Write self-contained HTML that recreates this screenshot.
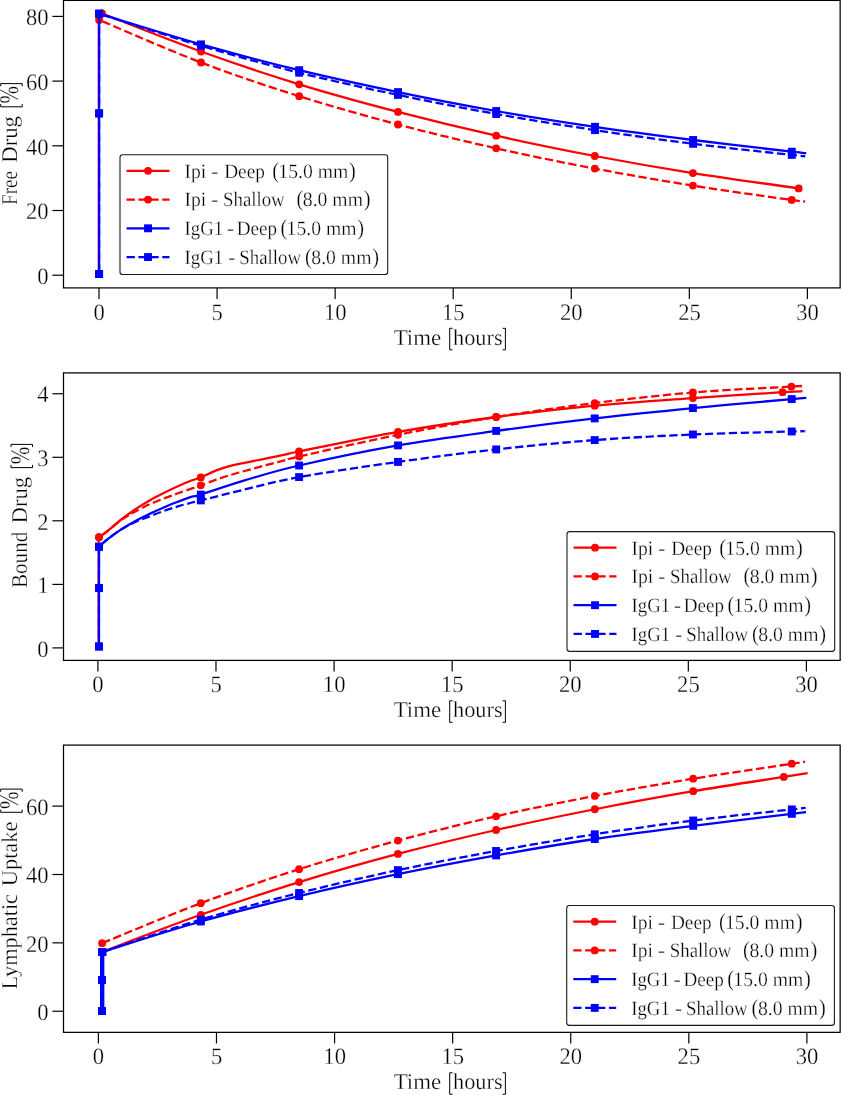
<!DOCTYPE html>
<html><head><meta charset="utf-8"><title>Drug kinetics</title>
<style>
html,body{margin:0;padding:0;background:#fff;}
body{width:847px;height:1095px;overflow:hidden;font-family:"Liberation Serif",serif;}
svg{display:block;will-change:transform;}
.t text{stroke:#fff;stroke-width:0.3px;paint-order:fill stroke;text-rendering:geometricPrecision;}
</style></head>
<body>
<svg width="847" height="1095" viewBox="0 0 847 1095">
<rect width="847" height="1095" fill="#fff"/>
<g font-family='"Liberation Serif", serif' fill="#000" class="t">
<line x1="98.85" y1="274" x2="98.85" y2="14" stroke="#ff0000" stroke-width="2.28"/>
<path d="M102.10,13.50 C118.58,19.83 168.15,39.70 201.00,51.50 C233.85,63.30 266.37,74.23 299.20,84.30 C332.03,94.37 365.17,103.33 398.00,111.90 C430.83,120.47 463.40,128.35 496.20,135.70 C529.00,143.05 562.02,149.77 594.80,156.00 C627.58,162.23 658.92,167.70 692.90,173.10 C726.88,178.50 781.07,185.85 798.70,188.40" fill="none" stroke="#ff0000" stroke-width="2.28" stroke-linejoin="round" stroke-linecap="butt"/>
<circle cx="102.10" cy="13.50" r="3.90" fill="#ff0000"/>
<circle cx="201.00" cy="51.50" r="3.90" fill="#ff0000"/>
<circle cx="299.20" cy="84.30" r="3.90" fill="#ff0000"/>
<circle cx="398.00" cy="111.90" r="3.90" fill="#ff0000"/>
<circle cx="496.20" cy="135.70" r="3.90" fill="#ff0000"/>
<circle cx="594.80" cy="156.00" r="3.90" fill="#ff0000"/>
<circle cx="692.90" cy="173.10" r="3.90" fill="#ff0000"/>
<circle cx="798.70" cy="188.40" r="3.90" fill="#ff0000"/>
<path d="M99.10,19.90 C116.08,27.00 167.65,49.78 201.00,62.50 C234.35,75.22 266.37,85.87 299.20,96.20 C332.03,106.53 365.17,115.82 398.00,124.50 C430.83,133.18 463.40,140.95 496.20,148.30 C529.00,155.65 562.02,162.38 594.80,168.60 C627.58,174.82 660.08,180.38 692.90,185.60 C725.72,190.82 773.02,197.30 791.70,199.95 C810.38,202.60 802.78,201.24 805.00,201.50" fill="none" stroke="#ff0000" stroke-width="2.28" stroke-linejoin="round" stroke-linecap="butt" stroke-dasharray="8.30 3.60" stroke-dashoffset="8.06"/>
<circle cx="99.10" cy="19.90" r="3.90" fill="#ff0000"/>
<circle cx="201.00" cy="62.50" r="3.90" fill="#ff0000"/>
<circle cx="299.20" cy="96.20" r="3.90" fill="#ff0000"/>
<circle cx="398.00" cy="124.50" r="3.90" fill="#ff0000"/>
<circle cx="496.20" cy="148.30" r="3.90" fill="#ff0000"/>
<circle cx="594.80" cy="168.60" r="3.90" fill="#ff0000"/>
<circle cx="692.90" cy="185.60" r="3.90" fill="#ff0000"/>
<circle cx="791.70" cy="199.95" r="3.90" fill="#ff0000"/>
<path d="M99.10,274.00 L99.10,113.40 L99.10,13.65  C116.08,18.77 167.65,34.97 201.00,44.40 C234.35,53.83 266.37,62.25 299.20,70.20 C332.03,78.15 365.17,85.30 398.00,92.10 C430.83,98.90 463.37,105.22 496.20,111.00 C529.03,116.78 562.18,121.97 595.00,126.80 C627.82,131.63 660.30,135.85 693.10,140.00 C725.90,144.15 772.95,149.52 791.80,151.70 C810.65,153.88 803.80,152.87 806.20,153.10" fill="none" stroke="#0000ff" stroke-width="2.28" stroke-linejoin="round" stroke-linecap="butt"/>
<rect x="95.15" y="270.05" width="7.90" height="7.90" fill="#0000ff"/>
<rect x="95.15" y="109.45" width="7.90" height="7.90" fill="#0000ff"/>
<rect x="95.15" y="9.70" width="7.90" height="7.90" fill="#0000ff"/>
<rect x="197.05" y="40.45" width="7.90" height="7.90" fill="#0000ff"/>
<rect x="295.25" y="66.25" width="7.90" height="7.90" fill="#0000ff"/>
<rect x="394.05" y="88.15" width="7.90" height="7.90" fill="#0000ff"/>
<rect x="492.25" y="107.05" width="7.90" height="7.90" fill="#0000ff"/>
<rect x="591.05" y="122.85" width="7.90" height="7.90" fill="#0000ff"/>
<rect x="689.15" y="136.05" width="7.90" height="7.90" fill="#0000ff"/>
<rect x="787.85" y="147.75" width="7.90" height="7.90" fill="#0000ff"/>
<path d="M99.10,274.00 L99.10,113.40 L99.10,13.65  C116.08,19.01 167.65,35.96 201.00,45.80 C234.35,55.64 266.37,64.52 299.20,72.70 C332.03,80.88 365.17,88.02 398.00,94.90 C430.83,101.78 463.37,108.13 496.20,114.00 C529.03,119.87 562.18,125.13 595.00,130.10 C627.82,135.07 660.30,139.67 693.10,143.80 C725.90,147.93 773.15,152.82 791.80,154.90 C810.45,156.98 802.80,156.07 805.00,156.30" fill="none" stroke="#0000ff" stroke-width="2.28" stroke-linejoin="round" stroke-linecap="butt" stroke-dasharray="8.30 3.60" stroke-dashoffset="10.20"/>
<rect x="95.15" y="270.05" width="7.90" height="7.90" fill="#0000ff"/>
<rect x="95.15" y="109.45" width="7.90" height="7.90" fill="#0000ff"/>
<rect x="95.15" y="9.70" width="7.90" height="7.90" fill="#0000ff"/>
<rect x="197.05" y="41.85" width="7.90" height="7.90" fill="#0000ff"/>
<rect x="295.25" y="68.75" width="7.90" height="7.90" fill="#0000ff"/>
<rect x="394.05" y="90.95" width="7.90" height="7.90" fill="#0000ff"/>
<rect x="492.25" y="110.05" width="7.90" height="7.90" fill="#0000ff"/>
<rect x="591.05" y="126.15" width="7.90" height="7.90" fill="#0000ff"/>
<rect x="689.15" y="139.85" width="7.90" height="7.90" fill="#0000ff"/>
<rect x="787.85" y="150.95" width="7.90" height="7.90" fill="#0000ff"/>
<rect x="120.00" y="154.70" width="267.70" height="119.80" rx="2.6" ry="2.6" fill="#fff" fill-opacity="0.8" stroke="#1a1a1a" stroke-width="1.1"/>
<line x1="126.55" y1="170.80" x2="169.50" y2="170.80" stroke="#ff0000" stroke-width="2.28"/>
<circle cx="148.03" cy="170.80" r="3.90" fill="#ff0000"/>
<text x="184.50" y="177.70" font-size="20.40" text-anchor="start" textLength="21.80" lengthAdjust="spacingAndGlyphs">Ipi</text>
<text x="211.20" y="177.70" font-size="20.40" text-anchor="start" textLength="7.00" lengthAdjust="spacingAndGlyphs">-</text>
<text x="224.20" y="177.70" font-size="20.40" text-anchor="start" textLength="40.70" lengthAdjust="spacingAndGlyphs">Deep</text>
<text x="272.20" y="177.70" font-size="22.60" text-anchor="start" textLength="6.80" lengthAdjust="spacingAndGlyphs">(</text>
<text x="278.30" y="177.70" font-size="20.40" text-anchor="start" textLength="70.00" lengthAdjust="spacingAndGlyphs">15.0 mm</text>
<text x="348.95" y="177.70" font-size="22.60" text-anchor="start" textLength="6.80" lengthAdjust="spacingAndGlyphs">)</text>
<line x1="126.55" y1="199.55" x2="169.50" y2="199.55" stroke="#ff0000" stroke-width="2.28" stroke-dasharray="8.30 3.60"/>
<circle cx="148.03" cy="199.55" r="3.90" fill="#ff0000"/>
<text x="184.50" y="206.45" font-size="20.40" text-anchor="start" textLength="21.80" lengthAdjust="spacingAndGlyphs">Ipi</text>
<text x="211.20" y="206.45" font-size="20.40" text-anchor="start" textLength="7.00" lengthAdjust="spacingAndGlyphs">-</text>
<text x="223.10" y="206.45" font-size="20.40" text-anchor="start" textLength="61.60" lengthAdjust="spacingAndGlyphs">Shallow</text>
<text x="296.40" y="206.45" font-size="22.60" text-anchor="start" textLength="6.80" lengthAdjust="spacingAndGlyphs">(</text>
<text x="302.80" y="206.45" font-size="20.40" text-anchor="start" textLength="60.20" lengthAdjust="spacingAndGlyphs">8.0 mm</text>
<text x="363.80" y="206.45" font-size="22.60" text-anchor="start" textLength="6.80" lengthAdjust="spacingAndGlyphs">)</text>
<line x1="126.55" y1="228.30" x2="169.50" y2="228.30" stroke="#0000ff" stroke-width="2.28"/>
<rect x="144.08" y="224.35" width="7.90" height="7.90" fill="#0000ff"/>
<text x="184.50" y="235.20" font-size="20.40" text-anchor="start" textLength="38.60" lengthAdjust="spacingAndGlyphs">IgG1</text>
<text x="227.00" y="235.20" font-size="20.40" text-anchor="start" textLength="7.00" lengthAdjust="spacingAndGlyphs">-</text>
<text x="236.80" y="235.20" font-size="20.40" text-anchor="start" textLength="40.30" lengthAdjust="spacingAndGlyphs">Deep</text>
<text x="280.50" y="235.20" font-size="22.60" text-anchor="start" textLength="6.80" lengthAdjust="spacingAndGlyphs">(</text>
<text x="286.60" y="235.20" font-size="20.40" text-anchor="start" textLength="70.00" lengthAdjust="spacingAndGlyphs">15.0 mm</text>
<text x="357.25" y="235.20" font-size="22.60" text-anchor="start" textLength="6.80" lengthAdjust="spacingAndGlyphs">)</text>
<line x1="126.55" y1="257.05" x2="169.50" y2="257.05" stroke="#0000ff" stroke-width="2.28" stroke-dasharray="8.30 3.60"/>
<rect x="144.08" y="253.10" width="7.90" height="7.90" fill="#0000ff"/>
<text x="184.50" y="263.95" font-size="20.40" text-anchor="start" textLength="38.60" lengthAdjust="spacingAndGlyphs">IgG1</text>
<text x="228.30" y="263.95" font-size="20.40" text-anchor="start" textLength="7.00" lengthAdjust="spacingAndGlyphs">-</text>
<text x="239.30" y="263.95" font-size="20.40" text-anchor="start" textLength="61.70" lengthAdjust="spacingAndGlyphs">Shallow</text>
<text x="304.90" y="263.95" font-size="22.60" text-anchor="start" textLength="6.80" lengthAdjust="spacingAndGlyphs">(</text>
<text x="311.30" y="263.95" font-size="20.40" text-anchor="start" textLength="60.20" lengthAdjust="spacingAndGlyphs">8.0 mm</text>
<text x="372.30" y="263.95" font-size="22.60" text-anchor="start" textLength="6.80" lengthAdjust="spacingAndGlyphs">)</text>
<line x1="99.00" y1="287.90" x2="99.00" y2="299.00" stroke="#000" stroke-width="1.20"/>
<text x="99.10" y="319.50" font-size="23.70" text-anchor="middle" textLength="11.30" lengthAdjust="spacingAndGlyphs">0</text>
<line x1="217.07" y1="287.90" x2="217.07" y2="299.00" stroke="#000" stroke-width="1.20"/>
<text x="217.17" y="319.50" font-size="23.70" text-anchor="middle" textLength="11.30" lengthAdjust="spacingAndGlyphs">5</text>
<line x1="335.13" y1="287.90" x2="335.13" y2="299.00" stroke="#000" stroke-width="1.20"/>
<text x="335.23" y="319.50" font-size="23.70" text-anchor="middle" textLength="22.60" lengthAdjust="spacingAndGlyphs">10</text>
<line x1="453.20" y1="287.90" x2="453.20" y2="299.00" stroke="#000" stroke-width="1.20"/>
<text x="453.30" y="319.50" font-size="23.70" text-anchor="middle" textLength="22.60" lengthAdjust="spacingAndGlyphs">15</text>
<line x1="571.27" y1="287.90" x2="571.27" y2="299.00" stroke="#000" stroke-width="1.20"/>
<text x="571.37" y="319.50" font-size="23.70" text-anchor="middle" textLength="22.60" lengthAdjust="spacingAndGlyphs">20</text>
<line x1="689.33" y1="287.90" x2="689.33" y2="299.00" stroke="#000" stroke-width="1.20"/>
<text x="689.43" y="319.50" font-size="23.70" text-anchor="middle" textLength="22.60" lengthAdjust="spacingAndGlyphs">25</text>
<line x1="807.40" y1="287.90" x2="807.40" y2="299.00" stroke="#000" stroke-width="1.20"/>
<text x="807.50" y="319.50" font-size="23.70" text-anchor="middle" textLength="22.60" lengthAdjust="spacingAndGlyphs">30</text>
<line x1="52.40" y1="275.20" x2="63.50" y2="275.20" stroke="#000" stroke-width="1.20"/>
<text x="48.60" y="283.90" font-size="23.70" text-anchor="end" textLength="11.30" lengthAdjust="spacingAndGlyphs">0</text>
<line x1="52.40" y1="210.50" x2="63.50" y2="210.50" stroke="#000" stroke-width="1.20"/>
<text x="48.60" y="219.20" font-size="23.70" text-anchor="end" textLength="22.60" lengthAdjust="spacingAndGlyphs">20</text>
<line x1="52.40" y1="145.80" x2="63.50" y2="145.80" stroke="#000" stroke-width="1.20"/>
<text x="48.60" y="154.50" font-size="23.70" text-anchor="end" textLength="22.60" lengthAdjust="spacingAndGlyphs">40</text>
<line x1="52.40" y1="81.10" x2="63.50" y2="81.10" stroke="#000" stroke-width="1.20"/>
<text x="48.60" y="89.80" font-size="23.70" text-anchor="end" textLength="22.60" lengthAdjust="spacingAndGlyphs">60</text>
<line x1="52.40" y1="16.40" x2="63.50" y2="16.40" stroke="#000" stroke-width="1.20"/>
<text x="48.60" y="25.10" font-size="23.70" text-anchor="end" textLength="22.60" lengthAdjust="spacingAndGlyphs">80</text>
<g transform="translate(0,344.60)"><text x="393.70" y="0" font-size="22.60" textLength="47.50" lengthAdjust="spacingAndGlyphs">Time</text><path d="M452.50,-16.30 H449.70 V5.20 H452.50" fill="none" stroke="#000" stroke-width="1.00"/><text x="453.00" y="0" font-size="22.60" textLength="49.70" lengthAdjust="spacingAndGlyphs">hours</text><path d="M502.60,-16.30 H505.40 V5.20 H502.60" fill="none" stroke="#000" stroke-width="1.00"/></g>
<g transform="translate(17.00,204.50) rotate(-90)"><text x="-0.40" y="0" font-size="22.60" textLength="34.00" lengthAdjust="spacingAndGlyphs">Free</text><text x="41.80" y="0" font-size="22.60" textLength="46.60" lengthAdjust="spacingAndGlyphs">Drug</text><path d="M100.40,-16.30 H97.70 V5.20 H100.40" fill="none" stroke="#000" stroke-width="1.00"/><text x="101.00" y="1.2" font-size="27.0" textLength="17.50" lengthAdjust="spacingAndGlyphs">%</text><path d="M118.20,-16.30 H120.90 V5.20 H118.20" fill="none" stroke="#000" stroke-width="1.00"/></g>
<rect x="63.50" y="0.40" width="776.65" height="287.50" fill="none" stroke="#000" stroke-width="1.25"/>
<line x1="98.7" y1="646.5" x2="98.7" y2="538" stroke="#ff0000" stroke-width="2.28"/>
<path d="M99.00,537.20 C100.35,536.23 103.40,534.35 107.10,531.40 C110.80,528.45 116.48,523.20 121.20,519.50 C125.92,515.80 130.67,512.38 135.40,509.20 C140.13,506.02 144.88,503.10 149.60,500.40 C154.32,497.70 158.98,495.37 163.70,493.00 C168.42,490.63 173.17,488.32 177.90,486.20 C182.63,484.08 188.28,481.77 192.10,480.30 C195.92,478.83 196.78,479.05 200.80,477.40 C204.82,475.75 211.27,472.33 216.20,470.40 C221.13,468.47 225.67,467.07 230.40,465.80 C235.13,464.53 239.88,463.77 244.60,462.80 C249.32,461.83 253.98,460.93 258.70,460.00 C263.42,459.07 268.17,458.18 272.90,457.20 C277.63,456.22 282.73,455.05 287.10,454.10 C291.47,453.15 280.62,455.20 299.10,451.50 C317.58,447.80 365.15,437.65 398.00,431.90 C430.85,426.15 463.42,421.37 496.20,417.00 C528.98,412.63 561.92,408.85 594.70,405.70 C627.48,402.55 661.60,400.35 692.90,398.10 C724.20,395.85 764.23,393.35 782.50,392.20 C800.77,391.05 799.17,391.37 802.50,391.20" fill="none" stroke="#ff0000" stroke-width="2.28" stroke-linejoin="round" stroke-linecap="butt"/>
<circle cx="99.00" cy="537.20" r="3.90" fill="#ff0000"/>
<circle cx="200.80" cy="477.40" r="3.90" fill="#ff0000"/>
<circle cx="299.10" cy="451.50" r="3.90" fill="#ff0000"/>
<circle cx="398.00" cy="431.90" r="3.90" fill="#ff0000"/>
<circle cx="496.20" cy="417.00" r="3.90" fill="#ff0000"/>
<circle cx="594.70" cy="405.70" r="3.90" fill="#ff0000"/>
<circle cx="692.90" cy="398.10" r="3.90" fill="#ff0000"/>
<circle cx="782.50" cy="392.20" r="3.90" fill="#ff0000"/>
<path d="M99.00,537.20 C100.35,536.23 103.40,534.27 107.10,531.40 C110.80,528.53 117.72,522.62 121.20,520.00 C124.68,517.38 125.63,517.13 128.00,515.70 C130.37,514.27 131.80,513.30 135.40,511.40 C139.00,509.50 144.88,506.43 149.60,504.30 C154.32,502.17 158.98,500.43 163.70,498.60 C168.42,496.77 173.17,495.00 177.90,493.30 C182.63,491.60 188.28,489.73 192.10,488.40 C195.92,487.07 196.78,486.77 200.80,485.30 C204.82,483.83 211.27,481.32 216.20,479.60 C221.13,477.88 225.67,476.43 230.40,475.00 C235.13,473.57 239.88,472.32 244.60,471.00 C249.32,469.68 253.98,468.38 258.70,467.10 C263.42,465.82 268.17,464.55 272.90,463.30 C277.63,462.05 282.73,460.73 287.10,459.60 C291.47,458.47 280.62,460.63 299.10,456.50 C317.58,452.37 365.15,441.38 398.00,434.80 C430.85,428.22 463.42,422.28 496.20,417.00 C528.98,411.72 561.92,407.18 594.70,403.10 C627.48,399.02 660.12,395.25 692.90,392.50 C725.68,389.75 773.13,387.68 791.40,386.60 C809.67,385.52 800.65,386.10 802.50,386.00" fill="none" stroke="#ff0000" stroke-width="2.28" stroke-linejoin="round" stroke-linecap="butt" stroke-dasharray="8.30 3.60" stroke-dashoffset="7.25"/>
<circle cx="99.00" cy="537.20" r="3.90" fill="#ff0000"/>
<circle cx="200.80" cy="485.30" r="3.90" fill="#ff0000"/>
<circle cx="299.10" cy="456.50" r="3.90" fill="#ff0000"/>
<circle cx="398.00" cy="434.80" r="3.90" fill="#ff0000"/>
<circle cx="496.20" cy="417.00" r="3.90" fill="#ff0000"/>
<circle cx="594.70" cy="403.10" r="3.90" fill="#ff0000"/>
<circle cx="692.90" cy="392.50" r="3.90" fill="#ff0000"/>
<circle cx="791.40" cy="386.60" r="3.90" fill="#ff0000"/>
<path d="M98.95,646.50 L98.95,588.10 L99.00,546.70  C100.35,545.52 103.40,542.48 107.10,539.60 C110.80,536.72 116.48,532.52 121.20,529.40 C125.92,526.28 130.67,523.48 135.40,520.90 C140.13,518.32 144.88,516.13 149.60,513.90 C154.32,511.67 158.98,509.52 163.70,507.50 C168.42,505.48 173.17,503.62 177.90,501.80 C182.63,499.98 188.28,497.80 192.10,496.60 C195.92,495.40 192.05,497.30 200.80,494.60 C209.55,491.90 228.22,485.25 244.60,480.40 C260.98,475.55 273.53,471.33 299.10,465.50 C324.67,459.67 365.15,451.17 398.00,445.40 C430.85,439.63 463.42,435.40 496.20,430.90 C528.98,426.40 561.92,422.20 594.70,418.40 C627.48,414.60 660.07,411.32 692.90,408.10 C725.73,404.88 772.80,400.82 791.70,399.10 C810.60,397.38 803.87,398.02 806.30,397.80" fill="none" stroke="#0000ff" stroke-width="2.28" stroke-linejoin="round" stroke-linecap="butt"/>
<rect x="95.00" y="642.55" width="7.90" height="7.90" fill="#0000ff"/>
<rect x="95.00" y="584.15" width="7.90" height="7.90" fill="#0000ff"/>
<rect x="95.05" y="542.75" width="7.90" height="7.90" fill="#0000ff"/>
<rect x="196.85" y="490.65" width="7.90" height="7.90" fill="#0000ff"/>
<rect x="295.15" y="461.55" width="7.90" height="7.90" fill="#0000ff"/>
<rect x="394.05" y="441.45" width="7.90" height="7.90" fill="#0000ff"/>
<rect x="492.25" y="426.95" width="7.90" height="7.90" fill="#0000ff"/>
<rect x="590.75" y="414.45" width="7.90" height="7.90" fill="#0000ff"/>
<rect x="688.95" y="404.15" width="7.90" height="7.90" fill="#0000ff"/>
<rect x="787.75" y="395.15" width="7.90" height="7.90" fill="#0000ff"/>
<path d="M98.95,646.50 L98.95,588.10 L99.00,546.70  C100.35,545.52 103.40,542.47 107.10,539.60 C110.80,536.73 116.48,532.45 121.20,529.50 C125.92,526.55 130.67,524.08 135.40,521.90 C140.13,519.72 144.88,518.22 149.60,516.40 C154.32,514.58 158.98,512.67 163.70,511.00 C168.42,509.33 173.17,507.82 177.90,506.40 C182.63,504.98 188.28,503.50 192.10,502.50 C195.92,501.50 192.05,502.57 200.80,500.40 C209.55,498.23 228.22,493.38 244.60,489.50 C260.98,485.62 273.53,481.70 299.10,477.10 C324.67,472.50 365.15,466.52 398.00,461.90 C430.85,457.28 463.42,453.03 496.20,449.40 C528.98,445.77 561.92,442.58 594.70,440.10 C627.48,437.62 660.07,435.93 692.90,434.50 C725.73,433.07 773.08,432.05 791.70,431.50 C810.32,430.95 802.45,431.25 804.60,431.20" fill="none" stroke="#0000ff" stroke-width="2.28" stroke-linejoin="round" stroke-linecap="butt" stroke-dasharray="8.30 3.60" stroke-dashoffset="3.46"/>
<rect x="95.00" y="642.55" width="7.90" height="7.90" fill="#0000ff"/>
<rect x="95.00" y="584.15" width="7.90" height="7.90" fill="#0000ff"/>
<rect x="95.05" y="542.75" width="7.90" height="7.90" fill="#0000ff"/>
<rect x="196.85" y="496.45" width="7.90" height="7.90" fill="#0000ff"/>
<rect x="295.15" y="473.15" width="7.90" height="7.90" fill="#0000ff"/>
<rect x="394.05" y="457.95" width="7.90" height="7.90" fill="#0000ff"/>
<rect x="492.25" y="445.45" width="7.90" height="7.90" fill="#0000ff"/>
<rect x="590.75" y="436.15" width="7.90" height="7.90" fill="#0000ff"/>
<rect x="688.95" y="430.55" width="7.90" height="7.90" fill="#0000ff"/>
<rect x="787.75" y="427.55" width="7.90" height="7.90" fill="#0000ff"/>
<rect x="567.00" y="531.60" width="267.70" height="119.80" rx="2.6" ry="2.6" fill="#fff" fill-opacity="0.8" stroke="#1a1a1a" stroke-width="1.1"/>
<line x1="573.55" y1="547.70" x2="616.50" y2="547.70" stroke="#ff0000" stroke-width="2.28"/>
<circle cx="595.02" cy="547.70" r="3.90" fill="#ff0000"/>
<text x="631.50" y="554.60" font-size="20.40" text-anchor="start" textLength="21.80" lengthAdjust="spacingAndGlyphs">Ipi</text>
<text x="658.20" y="554.60" font-size="20.40" text-anchor="start" textLength="7.00" lengthAdjust="spacingAndGlyphs">-</text>
<text x="671.20" y="554.60" font-size="20.40" text-anchor="start" textLength="40.70" lengthAdjust="spacingAndGlyphs">Deep</text>
<text x="719.20" y="554.60" font-size="22.60" text-anchor="start" textLength="6.80" lengthAdjust="spacingAndGlyphs">(</text>
<text x="725.30" y="554.60" font-size="20.40" text-anchor="start" textLength="70.00" lengthAdjust="spacingAndGlyphs">15.0 mm</text>
<text x="795.95" y="554.60" font-size="22.60" text-anchor="start" textLength="6.80" lengthAdjust="spacingAndGlyphs">)</text>
<line x1="573.55" y1="576.45" x2="616.50" y2="576.45" stroke="#ff0000" stroke-width="2.28" stroke-dasharray="8.30 3.60"/>
<circle cx="595.02" cy="576.45" r="3.90" fill="#ff0000"/>
<text x="631.50" y="583.35" font-size="20.40" text-anchor="start" textLength="21.80" lengthAdjust="spacingAndGlyphs">Ipi</text>
<text x="658.20" y="583.35" font-size="20.40" text-anchor="start" textLength="7.00" lengthAdjust="spacingAndGlyphs">-</text>
<text x="670.10" y="583.35" font-size="20.40" text-anchor="start" textLength="61.60" lengthAdjust="spacingAndGlyphs">Shallow</text>
<text x="743.40" y="583.35" font-size="22.60" text-anchor="start" textLength="6.80" lengthAdjust="spacingAndGlyphs">(</text>
<text x="749.80" y="583.35" font-size="20.40" text-anchor="start" textLength="60.20" lengthAdjust="spacingAndGlyphs">8.0 mm</text>
<text x="810.80" y="583.35" font-size="22.60" text-anchor="start" textLength="6.80" lengthAdjust="spacingAndGlyphs">)</text>
<line x1="573.55" y1="605.20" x2="616.50" y2="605.20" stroke="#0000ff" stroke-width="2.28"/>
<rect x="591.07" y="601.25" width="7.90" height="7.90" fill="#0000ff"/>
<text x="631.50" y="612.10" font-size="20.40" text-anchor="start" textLength="38.60" lengthAdjust="spacingAndGlyphs">IgG1</text>
<text x="674.00" y="612.10" font-size="20.40" text-anchor="start" textLength="7.00" lengthAdjust="spacingAndGlyphs">-</text>
<text x="683.80" y="612.10" font-size="20.40" text-anchor="start" textLength="40.30" lengthAdjust="spacingAndGlyphs">Deep</text>
<text x="727.50" y="612.10" font-size="22.60" text-anchor="start" textLength="6.80" lengthAdjust="spacingAndGlyphs">(</text>
<text x="733.60" y="612.10" font-size="20.40" text-anchor="start" textLength="70.00" lengthAdjust="spacingAndGlyphs">15.0 mm</text>
<text x="804.25" y="612.10" font-size="22.60" text-anchor="start" textLength="6.80" lengthAdjust="spacingAndGlyphs">)</text>
<line x1="573.55" y1="633.95" x2="616.50" y2="633.95" stroke="#0000ff" stroke-width="2.28" stroke-dasharray="8.30 3.60"/>
<rect x="591.07" y="630.00" width="7.90" height="7.90" fill="#0000ff"/>
<text x="631.50" y="640.85" font-size="20.40" text-anchor="start" textLength="38.60" lengthAdjust="spacingAndGlyphs">IgG1</text>
<text x="675.30" y="640.85" font-size="20.40" text-anchor="start" textLength="7.00" lengthAdjust="spacingAndGlyphs">-</text>
<text x="686.30" y="640.85" font-size="20.40" text-anchor="start" textLength="61.70" lengthAdjust="spacingAndGlyphs">Shallow</text>
<text x="751.90" y="640.85" font-size="22.60" text-anchor="start" textLength="6.80" lengthAdjust="spacingAndGlyphs">(</text>
<text x="758.30" y="640.85" font-size="20.40" text-anchor="start" textLength="60.20" lengthAdjust="spacingAndGlyphs">8.0 mm</text>
<text x="819.30" y="640.85" font-size="22.60" text-anchor="start" textLength="6.80" lengthAdjust="spacingAndGlyphs">)</text>
<line x1="97.90" y1="660.40" x2="97.90" y2="671.50" stroke="#000" stroke-width="1.20"/>
<text x="98.00" y="692.00" font-size="23.70" text-anchor="middle" textLength="11.30" lengthAdjust="spacingAndGlyphs">0</text>
<line x1="215.98" y1="660.40" x2="215.98" y2="671.50" stroke="#000" stroke-width="1.20"/>
<text x="216.08" y="692.00" font-size="23.70" text-anchor="middle" textLength="11.30" lengthAdjust="spacingAndGlyphs">5</text>
<line x1="334.07" y1="660.40" x2="334.07" y2="671.50" stroke="#000" stroke-width="1.20"/>
<text x="334.17" y="692.00" font-size="23.70" text-anchor="middle" textLength="22.60" lengthAdjust="spacingAndGlyphs">10</text>
<line x1="452.15" y1="660.40" x2="452.15" y2="671.50" stroke="#000" stroke-width="1.20"/>
<text x="452.25" y="692.00" font-size="23.70" text-anchor="middle" textLength="22.60" lengthAdjust="spacingAndGlyphs">15</text>
<line x1="570.23" y1="660.40" x2="570.23" y2="671.50" stroke="#000" stroke-width="1.20"/>
<text x="570.33" y="692.00" font-size="23.70" text-anchor="middle" textLength="22.60" lengthAdjust="spacingAndGlyphs">20</text>
<line x1="688.32" y1="660.40" x2="688.32" y2="671.50" stroke="#000" stroke-width="1.20"/>
<text x="688.42" y="692.00" font-size="23.70" text-anchor="middle" textLength="22.60" lengthAdjust="spacingAndGlyphs">25</text>
<line x1="806.40" y1="660.40" x2="806.40" y2="671.50" stroke="#000" stroke-width="1.20"/>
<text x="806.50" y="692.00" font-size="23.70" text-anchor="middle" textLength="22.60" lengthAdjust="spacingAndGlyphs">30</text>
<line x1="52.40" y1="647.90" x2="63.50" y2="647.90" stroke="#000" stroke-width="1.20"/>
<text x="48.60" y="656.60" font-size="23.70" text-anchor="end" textLength="11.30" lengthAdjust="spacingAndGlyphs">0</text>
<line x1="52.40" y1="584.40" x2="63.50" y2="584.40" stroke="#000" stroke-width="1.20"/>
<text x="48.60" y="593.10" font-size="23.70" text-anchor="end" textLength="11.30" lengthAdjust="spacingAndGlyphs">1</text>
<line x1="52.40" y1="520.80" x2="63.50" y2="520.80" stroke="#000" stroke-width="1.20"/>
<text x="48.60" y="529.50" font-size="23.70" text-anchor="end" textLength="11.30" lengthAdjust="spacingAndGlyphs">2</text>
<line x1="52.40" y1="457.30" x2="63.50" y2="457.30" stroke="#000" stroke-width="1.20"/>
<text x="48.60" y="466.00" font-size="23.70" text-anchor="end" textLength="11.30" lengthAdjust="spacingAndGlyphs">3</text>
<line x1="52.40" y1="393.75" x2="63.50" y2="393.75" stroke="#000" stroke-width="1.20"/>
<text x="48.60" y="402.45" font-size="23.70" text-anchor="end" textLength="11.30" lengthAdjust="spacingAndGlyphs">4</text>
<g transform="translate(0,717.10)"><text x="393.70" y="0" font-size="22.60" textLength="47.50" lengthAdjust="spacingAndGlyphs">Time</text><path d="M452.50,-16.30 H449.70 V5.20 H452.50" fill="none" stroke="#000" stroke-width="1.00"/><text x="453.00" y="0" font-size="22.60" textLength="49.70" lengthAdjust="spacingAndGlyphs">hours</text><path d="M502.60,-16.30 H505.40 V5.20 H502.60" fill="none" stroke="#000" stroke-width="1.00"/></g>
<g transform="translate(27.30,587.70) rotate(-90)"><text x="-0.40" y="0" font-size="22.60" textLength="56.40" lengthAdjust="spacingAndGlyphs">Bound</text><text x="64.30" y="0" font-size="22.60" textLength="46.55" lengthAdjust="spacingAndGlyphs">Drug</text><path d="M122.80,-16.30 H120.10 V5.20 H122.80" fill="none" stroke="#000" stroke-width="1.00"/><text x="123.40" y="1.2" font-size="27.0" textLength="17.50" lengthAdjust="spacingAndGlyphs">%</text><path d="M140.70,-16.30 H143.30 V5.20 H140.70" fill="none" stroke="#000" stroke-width="1.00"/></g>
<rect x="63.50" y="372.90" width="776.65" height="287.50" fill="none" stroke="#000" stroke-width="1.25"/>
<path d="M102.20,951.80 C118.63,945.63 167.98,926.42 200.80,914.80 C233.62,903.18 266.25,892.25 299.10,882.10 C331.95,871.95 365.07,862.58 397.90,853.90 C430.73,845.22 463.28,837.44 496.10,830.00 C528.92,822.56 561.95,815.72 594.80,809.25 C627.65,802.78 661.70,796.59 693.20,791.20 C724.70,785.81 764.73,779.92 783.80,776.90 C802.87,773.88 803.63,773.73 807.60,773.10" fill="none" stroke="#ff0000" stroke-width="2.28" stroke-linejoin="round" stroke-linecap="butt"/>
<circle cx="102.20" cy="951.80" r="3.90" fill="#ff0000"/>
<circle cx="200.80" cy="914.80" r="3.90" fill="#ff0000"/>
<circle cx="299.10" cy="882.10" r="3.90" fill="#ff0000"/>
<circle cx="397.90" cy="853.90" r="3.90" fill="#ff0000"/>
<circle cx="496.10" cy="830.00" r="3.90" fill="#ff0000"/>
<circle cx="594.80" cy="809.25" r="3.90" fill="#ff0000"/>
<circle cx="693.20" cy="791.20" r="3.90" fill="#ff0000"/>
<circle cx="783.80" cy="776.90" r="3.90" fill="#ff0000"/>
<path d="M102.10,943.20 C118.55,936.53 167.97,915.53 200.80,903.20 C233.63,890.87 266.25,879.63 299.10,869.20 C331.95,858.77 365.07,849.42 397.90,840.60 C430.73,831.78 463.28,823.74 496.10,816.30 C528.92,808.86 561.95,802.22 594.80,795.95 C627.65,789.68 660.38,784.08 693.20,778.70 C726.02,773.33 773.08,766.52 791.70,763.70 C810.32,760.88 802.70,762.12 804.90,761.80" fill="none" stroke="#ff0000" stroke-width="2.28" stroke-linejoin="round" stroke-linecap="butt" stroke-dasharray="8.30 3.60" stroke-dashoffset="11.52"/>
<circle cx="102.10" cy="943.20" r="3.90" fill="#ff0000"/>
<circle cx="200.80" cy="903.20" r="3.90" fill="#ff0000"/>
<circle cx="299.10" cy="869.20" r="3.90" fill="#ff0000"/>
<circle cx="397.90" cy="840.60" r="3.90" fill="#ff0000"/>
<circle cx="496.10" cy="816.30" r="3.90" fill="#ff0000"/>
<circle cx="594.80" cy="795.95" r="3.90" fill="#ff0000"/>
<circle cx="693.20" cy="778.70" r="3.90" fill="#ff0000"/>
<circle cx="791.70" cy="763.70" r="3.90" fill="#ff0000"/>
<line x1="102.2" y1="1011" x2="102.2" y2="952" stroke="#0000ff" stroke-width="4.35"/>
<path d="M102.20,1011.00 L102.20,980.10 L102.00,952.00  C118.47,946.92 167.95,930.82 200.80,921.50 C233.65,912.18 266.25,903.99 299.10,896.10 C331.95,888.21 365.07,880.93 397.90,874.15 C430.73,867.37 463.28,861.26 496.10,855.40 C528.92,849.54 561.95,843.93 594.80,839.00 C627.65,834.07 660.37,830.00 693.20,825.80 C726.03,821.60 773.00,816.07 791.80,813.80 C810.60,811.53 803.63,812.47 806.00,812.20" fill="none" stroke="#0000ff" stroke-width="2.28" stroke-linejoin="round" stroke-linecap="butt"/>
<rect x="98.05" y="1007.05" width="7.90" height="7.90" fill="#0000ff"/>
<rect x="98.05" y="976.15" width="7.90" height="7.90" fill="#0000ff"/>
<rect x="98.05" y="948.05" width="7.90" height="7.90" fill="#0000ff"/>
<rect x="196.85" y="917.55" width="7.90" height="7.90" fill="#0000ff"/>
<rect x="295.15" y="892.15" width="7.90" height="7.90" fill="#0000ff"/>
<rect x="393.95" y="870.20" width="7.90" height="7.90" fill="#0000ff"/>
<rect x="492.15" y="851.45" width="7.90" height="7.90" fill="#0000ff"/>
<rect x="590.85" y="835.05" width="7.90" height="7.90" fill="#0000ff"/>
<rect x="689.25" y="821.85" width="7.90" height="7.90" fill="#0000ff"/>
<rect x="787.85" y="809.85" width="7.90" height="7.90" fill="#0000ff"/>
<path d="M102.20,1011.00 L102.20,980.10 L102.60,952.00  C118.97,946.60 168.05,929.43 200.80,919.60 C233.55,909.77 266.25,901.24 299.10,893.00 C331.95,884.76 365.07,877.15 397.90,870.15 C430.73,863.15 463.28,856.98 496.10,851.00 C528.92,845.02 561.95,839.38 594.80,834.30 C627.65,829.22 660.37,824.65 693.20,820.50 C726.03,816.35 773.18,811.50 791.80,809.40 C810.42,807.30 802.72,808.15 804.90,807.90" fill="none" stroke="#0000ff" stroke-width="2.28" stroke-linejoin="round" stroke-linecap="butt" stroke-dasharray="8.30 3.60" stroke-dashoffset="0.00"/>
<rect x="98.05" y="1007.05" width="7.90" height="7.90" fill="#0000ff"/>
<rect x="98.05" y="976.15" width="7.90" height="7.90" fill="#0000ff"/>
<rect x="98.65" y="948.05" width="7.90" height="7.90" fill="#0000ff"/>
<rect x="196.85" y="915.65" width="7.90" height="7.90" fill="#0000ff"/>
<rect x="295.15" y="889.05" width="7.90" height="7.90" fill="#0000ff"/>
<rect x="393.95" y="866.20" width="7.90" height="7.90" fill="#0000ff"/>
<rect x="492.15" y="847.05" width="7.90" height="7.90" fill="#0000ff"/>
<rect x="590.85" y="830.35" width="7.90" height="7.90" fill="#0000ff"/>
<rect x="689.25" y="816.55" width="7.90" height="7.90" fill="#0000ff"/>
<rect x="787.85" y="805.45" width="7.90" height="7.90" fill="#0000ff"/>
<rect x="566.70" y="905.55" width="267.70" height="119.80" rx="2.6" ry="2.6" fill="#fff" fill-opacity="0.8" stroke="#1a1a1a" stroke-width="1.1"/>
<line x1="573.25" y1="921.65" x2="616.20" y2="921.65" stroke="#ff0000" stroke-width="2.28"/>
<circle cx="594.73" cy="921.65" r="3.90" fill="#ff0000"/>
<text x="631.20" y="928.55" font-size="20.40" text-anchor="start" textLength="21.80" lengthAdjust="spacingAndGlyphs">Ipi</text>
<text x="657.90" y="928.55" font-size="20.40" text-anchor="start" textLength="7.00" lengthAdjust="spacingAndGlyphs">-</text>
<text x="670.90" y="928.55" font-size="20.40" text-anchor="start" textLength="40.70" lengthAdjust="spacingAndGlyphs">Deep</text>
<text x="718.90" y="928.55" font-size="22.60" text-anchor="start" textLength="6.80" lengthAdjust="spacingAndGlyphs">(</text>
<text x="725.00" y="928.55" font-size="20.40" text-anchor="start" textLength="70.00" lengthAdjust="spacingAndGlyphs">15.0 mm</text>
<text x="795.65" y="928.55" font-size="22.60" text-anchor="start" textLength="6.80" lengthAdjust="spacingAndGlyphs">)</text>
<line x1="573.25" y1="950.40" x2="616.20" y2="950.40" stroke="#ff0000" stroke-width="2.28" stroke-dasharray="8.30 3.60"/>
<circle cx="594.73" cy="950.40" r="3.90" fill="#ff0000"/>
<text x="631.20" y="957.30" font-size="20.40" text-anchor="start" textLength="21.80" lengthAdjust="spacingAndGlyphs">Ipi</text>
<text x="657.90" y="957.30" font-size="20.40" text-anchor="start" textLength="7.00" lengthAdjust="spacingAndGlyphs">-</text>
<text x="669.80" y="957.30" font-size="20.40" text-anchor="start" textLength="61.60" lengthAdjust="spacingAndGlyphs">Shallow</text>
<text x="743.10" y="957.30" font-size="22.60" text-anchor="start" textLength="6.80" lengthAdjust="spacingAndGlyphs">(</text>
<text x="749.50" y="957.30" font-size="20.40" text-anchor="start" textLength="60.20" lengthAdjust="spacingAndGlyphs">8.0 mm</text>
<text x="810.50" y="957.30" font-size="22.60" text-anchor="start" textLength="6.80" lengthAdjust="spacingAndGlyphs">)</text>
<line x1="573.25" y1="979.15" x2="616.20" y2="979.15" stroke="#0000ff" stroke-width="2.28"/>
<rect x="590.77" y="975.20" width="7.90" height="7.90" fill="#0000ff"/>
<text x="631.20" y="986.05" font-size="20.40" text-anchor="start" textLength="38.60" lengthAdjust="spacingAndGlyphs">IgG1</text>
<text x="673.70" y="986.05" font-size="20.40" text-anchor="start" textLength="7.00" lengthAdjust="spacingAndGlyphs">-</text>
<text x="683.50" y="986.05" font-size="20.40" text-anchor="start" textLength="40.30" lengthAdjust="spacingAndGlyphs">Deep</text>
<text x="727.20" y="986.05" font-size="22.60" text-anchor="start" textLength="6.80" lengthAdjust="spacingAndGlyphs">(</text>
<text x="733.30" y="986.05" font-size="20.40" text-anchor="start" textLength="70.00" lengthAdjust="spacingAndGlyphs">15.0 mm</text>
<text x="803.95" y="986.05" font-size="22.60" text-anchor="start" textLength="6.80" lengthAdjust="spacingAndGlyphs">)</text>
<line x1="573.25" y1="1007.90" x2="616.20" y2="1007.90" stroke="#0000ff" stroke-width="2.28" stroke-dasharray="8.30 3.60"/>
<rect x="590.77" y="1003.95" width="7.90" height="7.90" fill="#0000ff"/>
<text x="631.20" y="1014.80" font-size="20.40" text-anchor="start" textLength="38.60" lengthAdjust="spacingAndGlyphs">IgG1</text>
<text x="675.00" y="1014.80" font-size="20.40" text-anchor="start" textLength="7.00" lengthAdjust="spacingAndGlyphs">-</text>
<text x="686.00" y="1014.80" font-size="20.40" text-anchor="start" textLength="61.70" lengthAdjust="spacingAndGlyphs">Shallow</text>
<text x="751.60" y="1014.80" font-size="22.60" text-anchor="start" textLength="6.80" lengthAdjust="spacingAndGlyphs">(</text>
<text x="758.00" y="1014.80" font-size="20.40" text-anchor="start" textLength="60.20" lengthAdjust="spacingAndGlyphs">8.0 mm</text>
<text x="819.00" y="1014.80" font-size="22.60" text-anchor="start" textLength="6.80" lengthAdjust="spacingAndGlyphs">)</text>
<line x1="98.40" y1="1032.35" x2="98.40" y2="1043.45" stroke="#000" stroke-width="1.20"/>
<text x="98.50" y="1063.95" font-size="23.70" text-anchor="middle" textLength="11.30" lengthAdjust="spacingAndGlyphs">0</text>
<line x1="216.48" y1="1032.35" x2="216.48" y2="1043.45" stroke="#000" stroke-width="1.20"/>
<text x="216.58" y="1063.95" font-size="23.70" text-anchor="middle" textLength="11.30" lengthAdjust="spacingAndGlyphs">5</text>
<line x1="334.57" y1="1032.35" x2="334.57" y2="1043.45" stroke="#000" stroke-width="1.20"/>
<text x="334.67" y="1063.95" font-size="23.70" text-anchor="middle" textLength="22.60" lengthAdjust="spacingAndGlyphs">10</text>
<line x1="452.65" y1="1032.35" x2="452.65" y2="1043.45" stroke="#000" stroke-width="1.20"/>
<text x="452.75" y="1063.95" font-size="23.70" text-anchor="middle" textLength="22.60" lengthAdjust="spacingAndGlyphs">15</text>
<line x1="570.73" y1="1032.35" x2="570.73" y2="1043.45" stroke="#000" stroke-width="1.20"/>
<text x="570.83" y="1063.95" font-size="23.70" text-anchor="middle" textLength="22.60" lengthAdjust="spacingAndGlyphs">20</text>
<line x1="688.82" y1="1032.35" x2="688.82" y2="1043.45" stroke="#000" stroke-width="1.20"/>
<text x="688.92" y="1063.95" font-size="23.70" text-anchor="middle" textLength="22.60" lengthAdjust="spacingAndGlyphs">25</text>
<line x1="806.90" y1="1032.35" x2="806.90" y2="1043.45" stroke="#000" stroke-width="1.20"/>
<text x="807.00" y="1063.95" font-size="23.70" text-anchor="middle" textLength="22.60" lengthAdjust="spacingAndGlyphs">30</text>
<line x1="52.40" y1="1011.25" x2="63.50" y2="1011.25" stroke="#000" stroke-width="1.20"/>
<text x="48.60" y="1019.95" font-size="23.70" text-anchor="end" textLength="11.30" lengthAdjust="spacingAndGlyphs">0</text>
<line x1="52.40" y1="942.85" x2="63.50" y2="942.85" stroke="#000" stroke-width="1.20"/>
<text x="48.60" y="951.55" font-size="23.70" text-anchor="end" textLength="22.60" lengthAdjust="spacingAndGlyphs">20</text>
<line x1="52.40" y1="874.50" x2="63.50" y2="874.50" stroke="#000" stroke-width="1.20"/>
<text x="48.60" y="883.20" font-size="23.70" text-anchor="end" textLength="22.60" lengthAdjust="spacingAndGlyphs">40</text>
<line x1="52.40" y1="806.10" x2="63.50" y2="806.10" stroke="#000" stroke-width="1.20"/>
<text x="48.60" y="814.80" font-size="23.70" text-anchor="end" textLength="22.60" lengthAdjust="spacingAndGlyphs">60</text>
<g transform="translate(0,1089.05)"><text x="393.70" y="0" font-size="22.60" textLength="47.50" lengthAdjust="spacingAndGlyphs">Time</text><path d="M452.50,-16.30 H449.70 V5.20 H452.50" fill="none" stroke="#000" stroke-width="1.00"/><text x="453.00" y="0" font-size="22.60" textLength="49.70" lengthAdjust="spacingAndGlyphs">hours</text><path d="M502.60,-16.30 H505.40 V5.20 H502.60" fill="none" stroke="#000" stroke-width="1.00"/></g>
<g transform="translate(17.00,989.00) rotate(-90)"><text x="-0.40" y="0" font-size="22.60" textLength="95.40" lengthAdjust="spacingAndGlyphs">Lymphatic</text><text x="102.80" y="0" font-size="22.60" textLength="64.60" lengthAdjust="spacingAndGlyphs">Uptake</text><path d="M179.40,-16.30 H176.70 V5.20 H179.40" fill="none" stroke="#000" stroke-width="1.00"/><text x="180.00" y="1.2" font-size="27.0" textLength="17.50" lengthAdjust="spacingAndGlyphs">%</text><path d="M197.20,-16.30 H199.90 V5.20 H197.20" fill="none" stroke="#000" stroke-width="1.00"/></g>
<rect x="63.50" y="745.10" width="776.65" height="287.25" fill="none" stroke="#000" stroke-width="1.25"/>
</g>
</svg>
</body></html>
